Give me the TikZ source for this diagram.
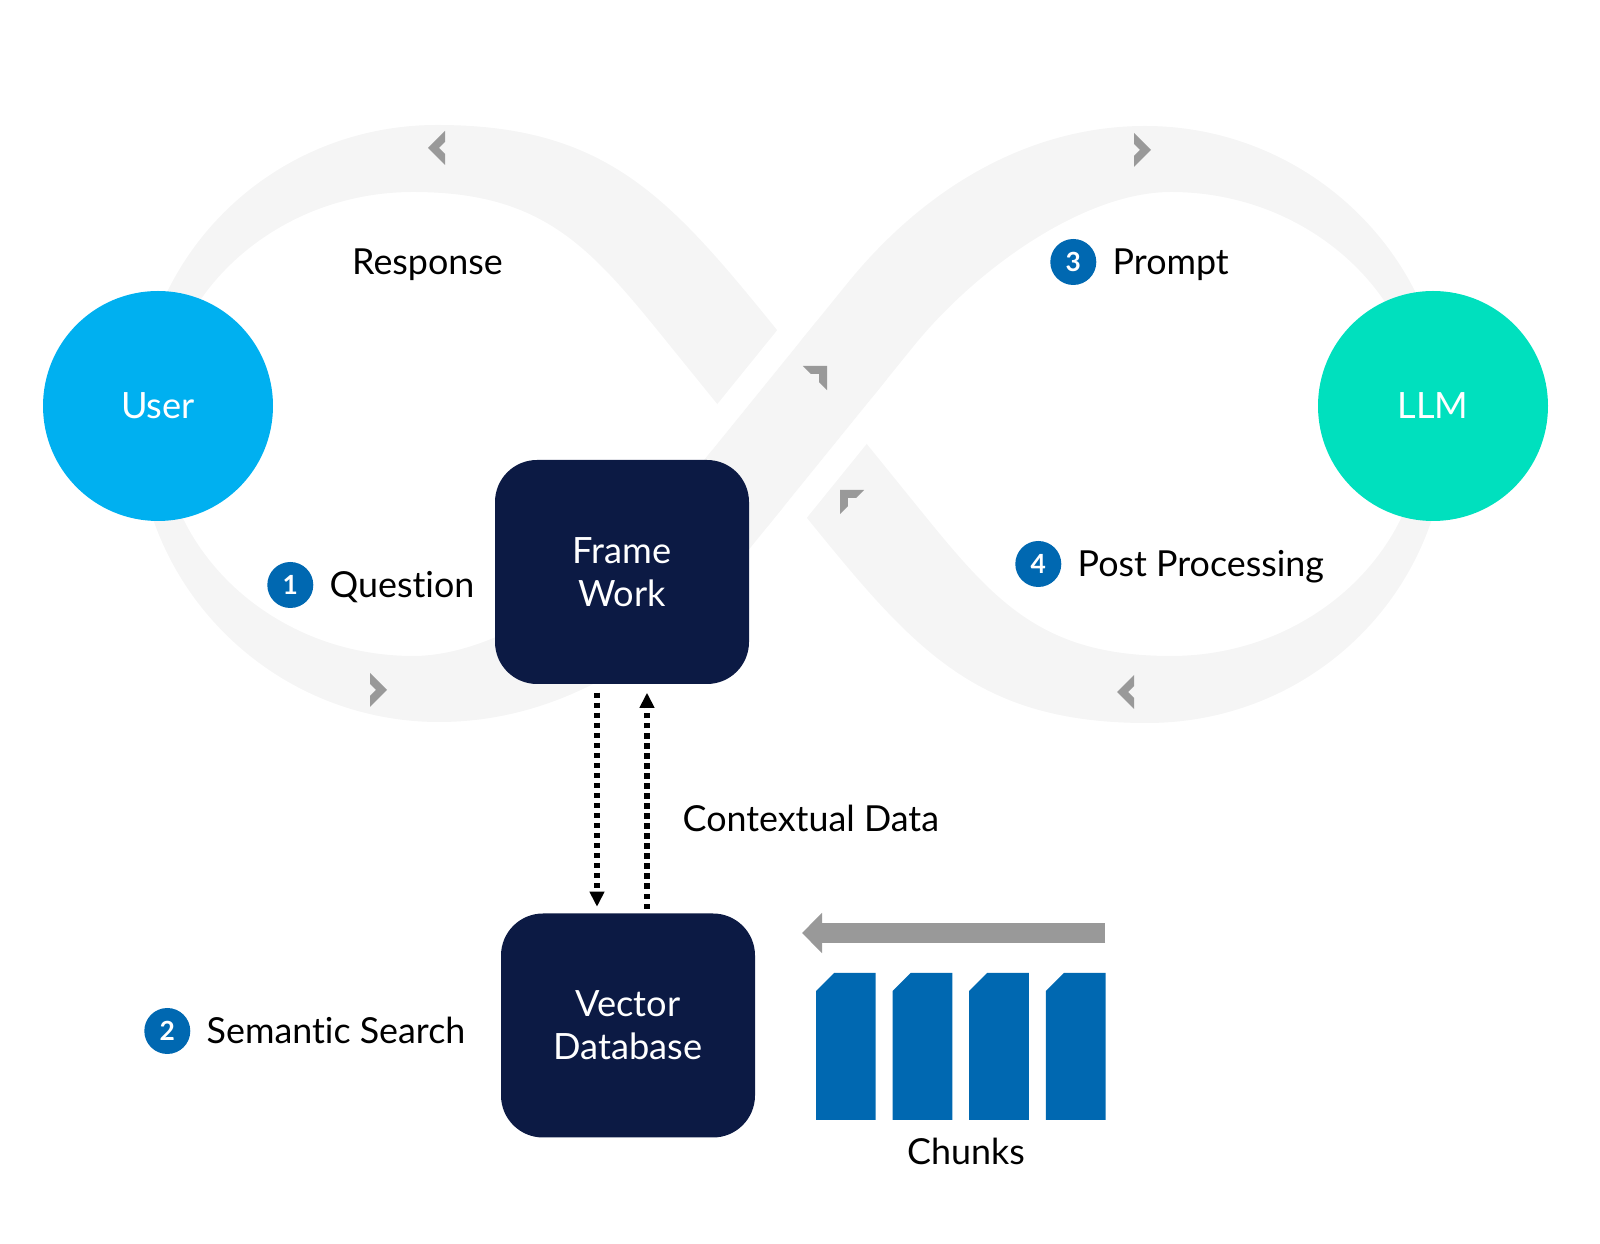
\documentclass[tikz,border=0pt]{standalone}
\usepackage{fontspec}
\setmainfont{Lato}[Ligatures=NoCommon]
\usepackage{tikz}
\usetikzlibrary{positioning}
\usetikzlibrary{arrows.meta}
\usetikzlibrary{calc}
\definecolor{bandgray}{HTML}{F5F5F5}
\definecolor{chevgray}{HTML}{999999}
\definecolor{usercyan}{HTML}{00B0F0}
\definecolor{llmteal}{HTML}{00E0BE}
\definecolor{navy}{HTML}{0C1A44}
\definecolor{stepblue}{HTML}{0068B1}
\tikzstyle{actor}=[circle,minimum size=23mm,inner sep=0pt,text=white,font=\fontsize{10.3}{12}\selectfont]
\tikzstyle{roundbox}=[rectangle,rounded corners=4.2mm,fill=navy,text=white,minimum width=25.4mm,minimum height=22.4mm,inner sep=0pt,align=center,font=\fontsize{10.3}{12.2}\selectfont]
\tikzstyle{txt}=[inner sep=0pt,text height=7.4pt,text depth=0pt,font=\fontsize{10.2}{12}\selectfont]
\tikzstyle{badge}=[circle,fill=stepblue,minimum size=4.6mm,inner sep=0pt,text=white,font=\fontsize{7.5}{8}\selectfont\bfseries]
\tikzstyle{dotarrow}=[draw,line width=1.5pt,dash pattern=on 1.5pt off 1.35pt,-{Triangle[width=4pt,length=4.3pt]}]
\tikzstyle{band}=[fill=bandgray,even odd rule]

\begin{document}
\begin{tikzpicture}[x=0.1mm,y=-0.1mm]
  \useasboundingbox (0,0) rectangle (1600,1244);

  % infinity band: left loop, right loop is the same turned round C
  \coordinate (C) at (792,424);
  \foreach \a in {0,180}
    \fill[band, rotate around={\a:(C)}]
      (850.6,424) -- (777,330) .. controls (670,198) and (607,125) .. (437,125)
      .. controls (271,125) and (137,257) .. (137,423)
      .. controls (137,588) and (273,722) .. (439,722)
      .. controls (550,722) and (655.5,665) .. (737.3,563.9) -- cycle
      (733.4,424) -- (665.4,340) .. controls (589.9,246.8) and (543,192) .. (413,192)
      .. controls (275,192) and (161,296) .. (161,424)
      .. controls (161,552) and (275,656) .. (413,656)
      .. controls (500,656) and (607.6,579.4) .. (670.5,501.7) -- cycle;

  % gap where the strand passes over
  \draw[white, line width=14.1mm] (747.95,478.4) -- (836.05,369.6);
  \draw[bandgray, line width=9.1mm] (732.2,497.8) -- (851.8,350.2);

  \foreach \x/\y/\a in {428/148/0, 387/690/180, 1151/150/180, 1117/692/0, 827/366/-135, 840/490/-45}
    \fill[chevgray, shift={(\x,\y)}, rotate=\a] (0,0) -- (17,-17) -- (17,-6) -- (11,0) -- (17,6) -- (17,17) -- cycle;

  \node[actor, fill=usercyan] (user) at (158,406) {User};
  \node[actor, fill=llmteal] (llm) at (1433,406) {LLM};

  \node[roundbox] (fw) at (622,572) {Frame\\Work};
  \node[roundbox] (vdb) at (628,1025.5) {Vector\\Database};

  \node[txt] (resp) at (427.5,262) {Response};
  \node[txt, anchor=west] (quest) at (329,585) {Question};
  \node[badge, left=1.5mm of quest] (b1) {1};
  \node[txt, anchor=west] (sem) at (206,1031) {Semantic Search};
  \node[badge, left=1.5mm of sem] (b2) {2};
  \node[txt, anchor=west] (prompt) at (1112,262) {Prompt};
  \node[badge, left=1.5mm of prompt] (b3) {3};
  \node[txt, anchor=west] (post) at (1077,564) {Post Processing};
  \node[badge, left=1.5mm of post] (b4) {4};
  \node[txt, anchor=west] (ctx) at (682,819) {Contextual Data};

  \draw[dotarrow] ($(fw.south)+(-25,8)$) -- ($(vdb.north)+(-31,-6)$);
  \draw[dotarrow] ($(vdb.north)+(19,-4)$) -- ($(fw.south)+(25,8)$);

  % chunks
  \foreach \i in {0,...,3}
    \fill[stepblue] (816+76.6*\i,991) -- (834+76.6*\i,973) -- (875.7+76.6*\i,973) -- (875.7+76.6*\i,1120) -- (816+76.6*\i,1120) -- cycle;
  \node[txt] (chunks) at (966,1151) {Chunks};

  \coordinate (feedR) at (1105,933);
  \coordinate (feedL) at (802,933);
  \draw[chevgray, line width=2mm, -{Triangle[width=3.9mm,length=2mm]}] (feedR) -- (feedL);
\end{tikzpicture}
\end{document}
